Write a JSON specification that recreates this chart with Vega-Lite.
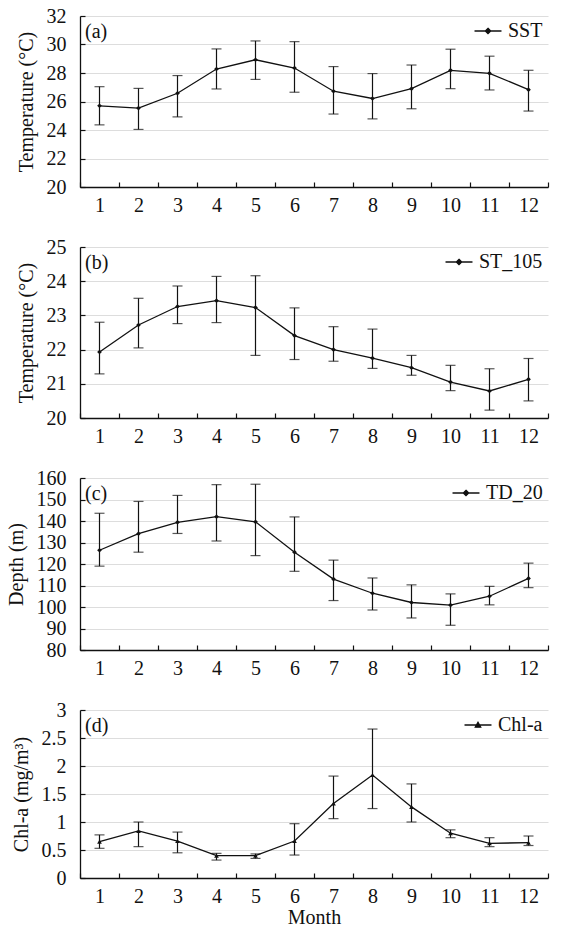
{
  "$schema": "https://vega.github.io/schema/vega-lite/v6.json",
  "background": "white",
  "padding": {"left": 6, "top": 6, "right": 3, "bottom": 0},
  "spacing": 22,
  "config": {
    "view": {"stroke": null},
    "font": "Liberation Serif",
    "axis": {
      "labelFont": "Liberation Serif", "labelFontSize": 20, "labelColor": "#111",
      "titleFont": "Liberation Serif", "titleFontSize": 20, "titleFontWeight": "normal", "titleColor": "#111",
      "domainColor": "#111", "domainWidth": 1.3
    },
    "title": {"anchor": "start", "frame": "group", "offset": -36, "baseline": "middle", "dx": 5, "font": "Liberation Serif", "fontSize": 20, "fontWeight": "normal", "color": "#111"},
    "legend": {"orient": "top-right", "offset": 5, "padding": 0, "title": null, "labelFont": "Liberation Serif", "labelFontSize": 20, "labelColor": "#111", "labelOffset": 10, "symbolSize": 182, "symbolStrokeWidth": 1.3, "symbolStrokeColor": "#111", "symbolFillColor": "#111"}
  },
  "datasets": {
    "a": [
      {"month": 1, "mean": 25.7, "lo": 24.36, "hi": 27.04, "series": "SST"},
      {"month": 2, "mean": 25.54, "lo": 24.04, "hi": 26.92, "series": "SST"},
      {"month": 3, "mean": 26.58, "lo": 24.92, "hi": 27.82, "series": "SST"},
      {"month": 4, "mean": 28.28, "lo": 26.88, "hi": 29.69, "series": "SST"},
      {"month": 5, "mean": 28.93, "lo": 27.55, "hi": 30.25, "series": "SST"},
      {"month": 6, "mean": 28.35, "lo": 26.65, "hi": 30.2, "series": "SST"},
      {"month": 7, "mean": 26.72, "lo": 25.12, "hi": 28.45, "series": "SST"},
      {"month": 8, "mean": 26.21, "lo": 24.78, "hi": 27.96, "series": "SST"},
      {"month": 9, "mean": 26.9, "lo": 25.49, "hi": 28.56, "series": "SST"},
      {"month": 10, "mean": 28.19, "lo": 26.9, "hi": 29.67, "series": "SST"},
      {"month": 11, "mean": 27.98, "lo": 26.81, "hi": 29.18, "series": "SST"},
      {"month": 12, "mean": 26.83, "lo": 25.33, "hi": 28.19, "series": "SST"}
    ],
    "b": [
      {"month": 1, "mean": 21.93, "lo": 21.29, "hi": 22.8, "series": "ST_105"},
      {"month": 2, "mean": 22.72, "lo": 22.05, "hi": 23.5, "series": "ST_105"},
      {"month": 3, "mean": 23.26, "lo": 22.76, "hi": 23.86, "series": "ST_105"},
      {"month": 4, "mean": 23.43, "lo": 22.79, "hi": 24.14, "series": "ST_105"},
      {"month": 5, "mean": 23.23, "lo": 21.83, "hi": 24.16, "series": "ST_105"},
      {"month": 6, "mean": 22.41, "lo": 21.71, "hi": 23.22, "series": "ST_105"},
      {"month": 7, "mean": 22.0, "lo": 21.66, "hi": 22.67, "series": "ST_105"},
      {"month": 8, "mean": 21.75, "lo": 21.45, "hi": 22.6, "series": "ST_105"},
      {"month": 9, "mean": 21.47, "lo": 21.25, "hi": 21.83, "series": "ST_105"},
      {"month": 10, "mean": 21.05, "lo": 20.8, "hi": 21.54, "series": "ST_105"},
      {"month": 11, "mean": 20.79, "lo": 20.23, "hi": 21.44, "series": "ST_105"},
      {"month": 12, "mean": 21.13, "lo": 20.5, "hi": 21.74, "series": "ST_105"}
    ],
    "c": [
      {"month": 1, "mean": 126.4, "lo": 119.0, "hi": 143.6, "series": "TD_20"},
      {"month": 2, "mean": 134.1, "lo": 125.5, "hi": 149.1, "series": "TD_20"},
      {"month": 3, "mean": 139.4, "lo": 134.2, "hi": 151.9, "series": "TD_20"},
      {"month": 4, "mean": 142.0, "lo": 130.7, "hi": 156.9, "series": "TD_20"},
      {"month": 5, "mean": 139.6, "lo": 123.9, "hi": 157.1, "series": "TD_20"},
      {"month": 6, "mean": 125.5, "lo": 116.6, "hi": 141.9, "series": "TD_20"},
      {"month": 7, "mean": 113.0, "lo": 103.0, "hi": 121.8, "series": "TD_20"},
      {"month": 8, "mean": 106.4, "lo": 98.6, "hi": 113.5, "series": "TD_20"},
      {"month": 9, "mean": 102.1, "lo": 94.9, "hi": 110.3, "series": "TD_20"},
      {"month": 10, "mean": 100.9, "lo": 91.5, "hi": 106.1, "series": "TD_20"},
      {"month": 11, "mean": 105.0, "lo": 101.0, "hi": 109.6, "series": "TD_20"},
      {"month": 12, "mean": 113.3, "lo": 109.0, "hi": 120.4, "series": "TD_20"}
    ],
    "d": [
      {"month": 1, "mean": 0.65, "lo": 0.53, "hi": 0.77, "series": "Chl-a"},
      {"month": 2, "mean": 0.84, "lo": 0.56, "hi": 1.0, "series": "Chl-a"},
      {"month": 3, "mean": 0.66, "lo": 0.45, "hi": 0.82, "series": "Chl-a"},
      {"month": 4, "mean": 0.4, "lo": 0.32, "hi": 0.44, "series": "Chl-a"},
      {"month": 5, "mean": 0.4, "lo": 0.35, "hi": 0.43, "series": "Chl-a"},
      {"month": 6, "mean": 0.66, "lo": 0.41, "hi": 0.97, "series": "Chl-a"},
      {"month": 7, "mean": 1.33, "lo": 1.06, "hi": 1.82, "series": "Chl-a"},
      {"month": 8, "mean": 1.84, "lo": 1.24, "hi": 2.66, "series": "Chl-a"},
      {"month": 9, "mean": 1.27, "lo": 1.0, "hi": 1.68, "series": "Chl-a"},
      {"month": 10, "mean": 0.8, "lo": 0.72, "hi": 0.86, "series": "Chl-a"},
      {"month": 11, "mean": 0.62, "lo": 0.56, "hi": 0.72, "series": "Chl-a"},
      {"month": 12, "mean": 0.63, "lo": 0.58, "hi": 0.75, "series": "Chl-a"}
    ]
  },
  "vconcat": [
    {
      "width": 468, "height": 171,
      "title": {"text": "(a)"},
      "data": {"name": "a"},
      "encoding": {
        "x": {"field": "month", "type": "ordinal", "scale": {"type": "band", "paddingInner": 0, "paddingOuter": 0}, "axis": {"title": null, "tickBand": "extent", "ticks": true, "tickSize": -5, "tickColor": "#111", "tickWidth": 1.2, "tickOpacity": 1, "labelPadding": 13, "labelAngle": 0, "labelOverlap": false}}
      },
      "layer": [
        {
          "mark": {"type": "errorbar", "ticks": {"size": 10}, "thickness": 1.2, "color": "#111"},
          "encoding": {
            "y": {"field": "lo", "type": "quantitative", "scale": {"domain": [20, 32], "nice": false, "zero": false}, "axis": {"values": [20, 22, 24, 26, 28, 30, 32], "ticks": true, "tickSize": -5, "tickColor": "#111", "tickWidth": 1.2, "tickOpacity": 1, "labelPadding": 19, "titlePadding": 10, "labelOverlap": false}, "title": "Temperature (°C)"},
            "y2": {"field": "hi"}
          }
        },
        {
          "mark": {"type": "line", "strokeWidth": 1.3, "point": {"shape": "diamond", "size": 22, "filled": true}},
          "encoding": {
            "y": {"field": "mean", "type": "quantitative", "axis": {"values": [20, 22, 24, 26, 28, 30, 32], "ticks": true, "tickSize": -5, "tickColor": "#111", "tickWidth": 1.2, "tickOpacity": 1, "labelPadding": 19, "titlePadding": 10, "labelOverlap": false}, "title": "Temperature (°C)"},
            "color": {"field": "series", "type": "nominal", "scale": {"range": ["#111"]}, "legend": {"symbolType": "M-2,0H2M0,-0.4L0.4,0L0,0.4L-0.4,0Z", "encode": {"symbols": {"update": {"fill": {"value": "#111"}, "stroke": {"value": "#111"}}}}}}
          }
        }
      ]
    },
    {
      "width": 468, "height": 171,
      "title": {"text": "(b)"},
      "data": {"name": "b"},
      "encoding": {
        "x": {"field": "month", "type": "ordinal", "scale": {"type": "band", "paddingInner": 0, "paddingOuter": 0}, "axis": {"title": null, "tickBand": "extent", "ticks": true, "tickSize": -5, "tickColor": "#111", "tickWidth": 1.2, "tickOpacity": 1, "labelPadding": 13, "labelAngle": 0, "labelOverlap": false}}
      },
      "layer": [
        {
          "mark": {"type": "errorbar", "ticks": {"size": 10}, "thickness": 1.2, "color": "#111"},
          "encoding": {
            "y": {"field": "lo", "type": "quantitative", "scale": {"domain": [20, 25], "nice": false, "zero": false}, "axis": {"values": [20, 21, 22, 23, 24, 25], "ticks": true, "tickSize": -5, "tickColor": "#111", "tickWidth": 1.2, "tickOpacity": 1, "labelPadding": 19, "titlePadding": 10, "labelOverlap": false}, "title": "Temperature (°C)"},
            "y2": {"field": "hi"}
          }
        },
        {
          "mark": {"type": "line", "strokeWidth": 1.3, "point": {"shape": "diamond", "size": 22, "filled": true}},
          "encoding": {
            "y": {"field": "mean", "type": "quantitative", "axis": {"values": [20, 21, 22, 23, 24, 25], "ticks": true, "tickSize": -5, "tickColor": "#111", "tickWidth": 1.2, "tickOpacity": 1, "labelPadding": 19, "titlePadding": 10, "labelOverlap": false}, "title": "Temperature (°C)"},
            "color": {"field": "series", "type": "nominal", "scale": {"range": ["#111"]}, "legend": {"symbolType": "M-2,0H2M0,-0.4L0.4,0L0,0.4L-0.4,0Z", "encode": {"symbols": {"update": {"fill": {"value": "#111"}, "stroke": {"value": "#111"}}}}}}
          }
        }
      ]
    },
    {
      "width": 468, "height": 172,
      "title": {"text": "(c)"},
      "data": {"name": "c"},
      "encoding": {
        "x": {"field": "month", "type": "ordinal", "scale": {"type": "band", "paddingInner": 0, "paddingOuter": 0}, "axis": {"title": null, "tickBand": "extent", "ticks": true, "tickSize": -5, "tickColor": "#111", "tickWidth": 1.2, "tickOpacity": 1, "labelPadding": 13, "labelAngle": 0, "labelOverlap": false}}
      },
      "layer": [
        {
          "mark": {"type": "errorbar", "ticks": {"size": 10}, "thickness": 1.2, "color": "#111"},
          "encoding": {
            "y": {"field": "lo", "type": "quantitative", "scale": {"domain": [80, 160], "nice": false, "zero": false}, "axis": {"values": [80, 90, 100, 110, 120, 130, 140, 150, 160], "ticks": true, "tickSize": -5, "tickColor": "#111", "tickWidth": 1.2, "tickOpacity": 1, "labelPadding": 19, "titlePadding": 10, "labelOverlap": false}, "title": "Depth (m)"},
            "y2": {"field": "hi"}
          }
        },
        {
          "mark": {"type": "line", "strokeWidth": 1.3, "point": {"shape": "diamond", "size": 22, "filled": true}},
          "encoding": {
            "y": {"field": "mean", "type": "quantitative", "axis": {"values": [80, 90, 100, 110, 120, 130, 140, 150, 160], "ticks": true, "tickSize": -5, "tickColor": "#111", "tickWidth": 1.2, "tickOpacity": 1, "labelPadding": 19, "titlePadding": 10, "labelOverlap": false}, "title": "Depth (m)"},
            "color": {"field": "series", "type": "nominal", "scale": {"range": ["#111"]}, "legend": {"symbolType": "M-2,0H2M0,-0.4L0.4,0L0,0.4L-0.4,0Z", "encode": {"symbols": {"update": {"fill": {"value": "#111"}, "stroke": {"value": "#111"}}}}}}
          }
        }
      ]
    },
    {
      "width": 468, "height": 168,
      "title": {"text": "(d)"},
      "data": {"name": "d"},
      "encoding": {
        "x": {"field": "month", "type": "ordinal", "scale": {"type": "band", "paddingInner": 0, "paddingOuter": 0}, "axis": {"title": "Month", "titlePadding": 1, "tickBand": "extent", "ticks": true, "tickSize": -5, "tickColor": "#111", "tickWidth": 1.2, "tickOpacity": 1, "labelPadding": 13, "labelAngle": 0, "labelOverlap": false}}
      },
      "layer": [
        {
          "mark": {"type": "errorbar", "ticks": {"size": 10}, "thickness": 1.2, "color": "#111"},
          "encoding": {
            "y": {"field": "lo", "type": "quantitative", "scale": {"domain": [0, 3], "nice": false, "zero": false}, "axis": {"values": [0, 0.5, 1, 1.5, 2, 2.5, 3], "format": "~g", "ticks": true, "tickSize": -5, "tickColor": "#111", "tickWidth": 1.2, "tickOpacity": 1, "labelPadding": 19, "titlePadding": 10, "labelOverlap": false}, "title": "Chl-a (mg/m³)"},
            "y2": {"field": "hi"}
          }
        },
        {
          "mark": {"type": "line", "strokeWidth": 1.3, "point": {"shape": "triangle-up", "size": 22, "filled": true}},
          "encoding": {
            "y": {"field": "mean", "type": "quantitative", "axis": {"values": [0, 0.5, 1, 1.5, 2, 2.5, 3], "format": "~g", "ticks": true, "tickSize": -5, "tickColor": "#111", "tickWidth": 1.2, "tickOpacity": 1, "labelPadding": 19, "titlePadding": 10, "labelOverlap": false}, "title": "Chl-a (mg/m³)"},
            "color": {"field": "series", "type": "nominal", "scale": {"range": ["#111"]}, "legend": {"symbolType": "M-2,0H2M-0.4,0.32L0,-0.4L0.4,0.32Z", "encode": {"symbols": {"update": {"fill": {"value": "#111"}, "stroke": {"value": "#111"}}}}}}
          }
        }
      ]
    }
  ],
  "resolve": {"scale": {"color": "independent", "y": "independent"}, "legend": {"color": "independent"}}
}
